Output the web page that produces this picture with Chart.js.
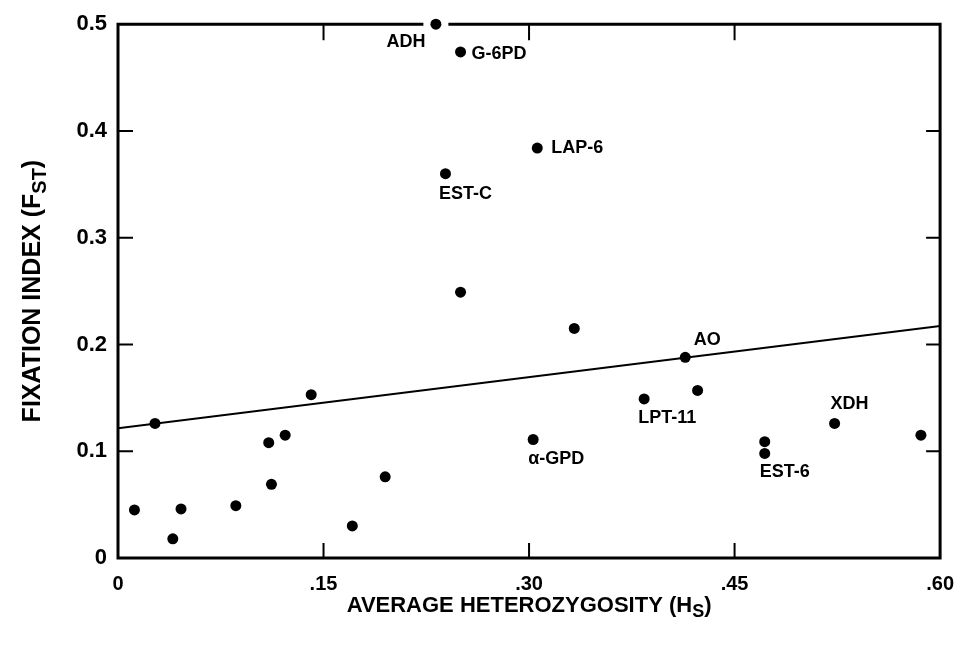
<!DOCTYPE html>
<html>
<head>
<meta charset="utf-8">
<script src="https://cdn.jsdelivr.net/npm/chart.js@4/dist/chart.umd.min.js"></script>
<style>
  html, body { margin: 0; padding: 0; background: #ffffff; }
  #wrap { width: 968px; height: 645px; }
</style>
</head>
<body>
<div id="wrap"><canvas id="c" width="968" height="645"></canvas></div>
<script>
// ---- data ----
const heterozygosity = [0.012, 0.027, 0.040, 0.046, 0.086, 0.110, 0.112, 0.122, 0.141, 0.171, 0.195,
                        0.303, 0.232, 0.250, 0.306, 0.239, 0.250, 0.333, 0.414, 0.384, 0.423,
                        0.472, 0.472, 0.523, 0.586];
const fixationIndex  = [0.045, 0.126, 0.018, 0.046, 0.049, 0.108, 0.069, 0.115, 0.153, 0.030, 0.076,
                        0.111, 0.500, 0.474, 0.384, 0.360, 0.249, 0.215, 0.188, 0.149, 0.157,
                        0.109, 0.098, 0.126, 0.115];
const locusNames     = ["", "", "", "", "", "", "", "", "", "", "",
                        "\u03B1-GPD", "ADH", "G-6PD", "LAP-6", "EST-C", "", "", "AO", "LPT-11", "",
                        "", "EST-6", "XDH", ""];
const regressionX = [0, 0.60];
const regressionY = [0.1215, 0.2172];
const xTickValues = [0, 0.15, 0.30, 0.45, 0.60];
const xTickLabels = ["0", ".15", ".30", ".45", ".60"];
const yTickValues = [0, 0.1, 0.2, 0.3, 0.4, 0.5];
const yTickLabels = ["0", "0.1", "0.2", "0.3", "0.4", "0.5"];
const xTitle = ["AVERAGE HETEROZYGOSITY (H", "S", ")"];
const yTitle = ["FIXATION INDEX (F", "ST", ")"];

// ---- label placement (pixel offsets from the point) ----
const labelPlacement = {
  "ADH":   { dx: -30, dy: 17.5, align: "center" },
  "G-6PD": { dx: 11,  dy: 2.5,  align: "left" },
  "LAP-6": { dx: 14,  dy: 0,    align: "left" },
  "EST-C": { dx: 20,  dy: 20,   align: "center" },
  "AO":    { dx: 22,  dy: -17,  align: "center" },
  "LPT-11":{ dx: 23,  dy: 19,   align: "center" },
  "XDH":   { dx: 15,  dy: -19,  align: "center" },
  "EST-6": { dx: 20,  dy: 19,   align: "center" },
  "\u03B1-GPD": { dx: 23, dy: 20, align: "center" }
};

const FONT = "'Liberation Sans', Arial, Helvetica, sans-serif";

const points = heterozygosity.map((x, i) => ({ x: x, y: fixationIndex[i] }));
const regression = regressionX.map((x, i) => ({ x: x, y: regressionY[i] }));

function drawSubText(ctx, parts, size) {
  const main = "bold " + size + "px " + FONT;
  const sub = "bold " + Math.round(size * 0.8) + "px " + FONT;
  ctx.font = main; const w0 = ctx.measureText(parts[0]).width;
  ctx.font = sub;  const w1 = ctx.measureText(parts[1]).width;
  ctx.font = main; const w2 = ctx.measureText(parts[2]).width;
  const total = w0 + w1 + w2;
  let x = -total / 2;
  ctx.textBaseline = "alphabetic";
  ctx.textAlign = "left";
  const base = size * 0.36;
  ctx.font = main; ctx.fillText(parts[0], x, base); x += w0;
  ctx.font = sub;  ctx.fillText(parts[1], x, base + size * 0.22); x += w1;
  ctx.font = main; ctx.fillText(parts[2], x, base);
}

const framePlugin = {
  id: "frame",
  beforeDatasetsDraw(chart) {
    const ctx = chart.ctx;
    const a = chart.chartArea;
    const xs = chart.scales.x, ys = chart.scales.y;
    ctx.save();
    ctx.strokeStyle = "#000";
    ctx.lineCap = "square";
    ctx.lineWidth = 3;
    const gaps = [];
    points.forEach(p => { if (p.y >= ys.max) gaps.push(xs.getPixelForValue(p.x)); });
    ctx.beginPath();
    ctx.moveTo(a.left, a.top);
    gaps.sort((m, n) => m - n).forEach(g => {
      ctx.lineTo(g - 14, a.top);
      ctx.moveTo(g + 14, a.top);
    });
    ctx.lineTo(a.right, a.top);
    ctx.moveTo(a.right, a.top);
    ctx.lineTo(a.right, a.bottom);
    ctx.lineTo(a.left, a.bottom);
    ctx.lineTo(a.left, a.top);
    ctx.stroke();
    ctx.lineWidth = 2;
    ctx.lineCap = "butt";
    ctx.beginPath();
    yTickValues.slice(1, -1).forEach(v => {
      const y = ys.getPixelForValue(v);
      ctx.moveTo(a.left, y); ctx.lineTo(a.left + 15, y);
      ctx.moveTo(a.right, y); ctx.lineTo(a.right - 14, y);
    });
    xTickValues.slice(1, -1).forEach(v => {
      const x = xs.getPixelForValue(v);
      ctx.moveTo(x, a.bottom); ctx.lineTo(x, a.bottom - 15);
      ctx.moveTo(x, a.top); ctx.lineTo(x, a.top + 16);
    });
    ctx.stroke();
    ctx.restore();
  },
  afterDraw(chart) {
    const ctx = chart.ctx;
    const a = chart.chartArea;
    const xs = chart.scales.x, ys = chart.scales.y;
    ctx.save();
    ctx.fillStyle = "#000";
    ctx.font = "bold 18px " + FONT;
    ctx.textBaseline = "middle";
    points.forEach((p, i) => {
      const name = locusNames[i];
      if (!name) return;
      const pl = labelPlacement[name] || { dx: 12, dy: 0, align: "left" };
      ctx.textAlign = pl.align;
      ctx.fillText(name, xs.getPixelForValue(p.x) + pl.dx, ys.getPixelForValue(p.y) + pl.dy);
    });
    ctx.save();
    ctx.translate((a.left + a.right) / 2, 604);
    drawSubText(ctx, xTitle, 22);
    ctx.restore();
    ctx.save();
    ctx.translate(31, (a.top + a.bottom) / 2);
    ctx.rotate(-Math.PI / 2);
    drawSubText(ctx, yTitle, 25);
    ctx.restore();
    ctx.restore();
  }
};

new Chart(document.getElementById("c"), {
  data: {
    datasets: [
      {
        type: "scatter",
        label: "Loci",
        data: points,
        backgroundColor: "#000",
        borderColor: "#000",
        borderWidth: 0,
        pointRadius: 5.5,
        pointHoverRadius: 5.5,
        clip: false
      },
      {
        type: "line",
        label: "Regression",
        data: regression,
        borderColor: "#000",
        borderWidth: 2,
        pointRadius: 0,
        fill: false,
        tension: 0
      }
    ]
  },
  options: {
    responsive: false,
    devicePixelRatio: 1,
    animation: false,
    events: [],
    layout: { padding: { left: 0, top: 22, right: 26, bottom: 0 } },
    plugins: { legend: { display: false }, tooltip: { enabled: false }, title: { display: false } },
    scales: {
      x: {
        type: "linear",
        min: 0, max: 0.6,
        afterBuildTicks: s => { s.ticks = xTickValues.map(v => ({ value: v })); },
        afterFit: s => { s.height = 87; },
        grid: { display: false, drawTicks: false },
        border: { display: false },
        ticks: {
          padding: 14,
          color: "#000",
          font: { family: FONT, size: 20, weight: "bold" },
          maxRotation: 0,
          autoSkip: false,
          callback: (v, i) => xTickLabels[i]
        }
      },
      y: {
        type: "linear",
        min: 0, max: 0.5,
        afterBuildTicks: s => { s.ticks = yTickValues.map(v => ({ value: v })); },
        afterFit: s => { s.width = 118; },
        grid: { display: false, drawTicks: false },
        border: { display: false },
        ticks: {
          padding: 11,
          color: "#000",
          font: { family: FONT, size: 22, weight: "bold" },
          autoSkip: false,
          callback: (v, i) => yTickLabels[i]
        }
      }
    }
  },
  plugins: [framePlugin]
});
</script>
</body>
</html>
